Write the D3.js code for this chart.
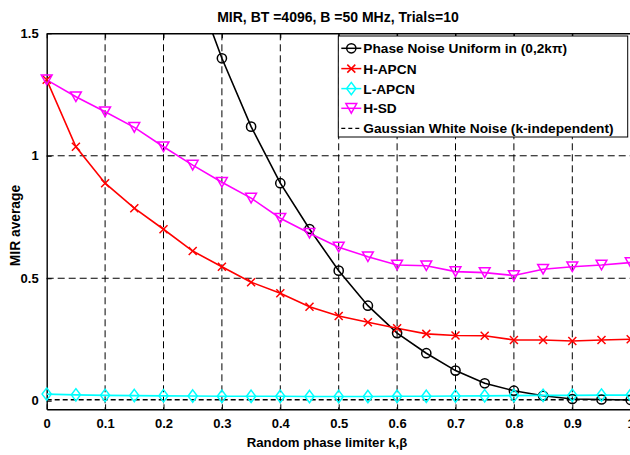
<!DOCTYPE html>
<html><head><meta charset="utf-8">
<script src="https://cdn.jsdelivr.net/npm/d3@7"></script>
<style>
html,body{margin:0;padding:0;background:#fff;}
svg{display:block;font-family:"Liberation Sans",Arial,Helvetica,sans-serif;}
</style></head>
<body>
<svg id="chart" width="630" height="455"></svg>
<script>
const kValues = [0,0.05,0.1,0.15,0.2,0.25,0.3,0.35,0.4,0.45,0.5,0.55,0.6,0.65,0.7,0.75,0.8,0.85,0.9,0.95,1];
const phaseNoiseUniform = [2.8,2.7,2.55,2.35,2.05,1.72,1.398,1.119,0.888,0.701,0.531,0.388,0.276,0.194,0.123,0.071,0.041,0.02,0.007,0.005,0.003];
const hApcn = [1.31,1.037,0.888,0.786,0.7,0.611,0.547,0.484,0.439,0.384,0.346,0.32,0.296,0.273,0.266,0.265,0.248,0.248,0.244,0.248,0.251];
const lApcn = [0.027,0.024,0.022,0.021,0.02,0.019,0.018,0.018,0.018,0.017,0.017,0.017,0.018,0.018,0.019,0.02,0.021,0.022,0.022,0.023,0.023];
const hSd = [1.31,1.241,1.18,1.116,1.037,0.962,0.892,0.827,0.745,0.684,0.627,0.588,0.554,0.551,0.527,0.523,0.511,0.537,0.547,0.554,0.564];
const gaussianWhiteNoise = [0.004,0.004];
const gaussianK = [0,1];
const xTicks = [0,0.1,0.2,0.3,0.4,0.5,0.6,0.7,0.8,0.9,1];
const yTicks = [0,0.5,1,1.5];
const xTickLabels = ["0","0.1","0.2","0.3","0.4","0.5","0.6","0.7","0.8","0.9","1"];
const yTickLabels = ["0","0.5","1","1.5"];
const seriesNames = ["Phase Noise Uniform in (0,2k\u03c0)","H-APCN","L-APCN","H-SD","Gaussian White Noise (k-independent)"];
const titleText = "MIR, BT =4096, B =50 MHz, Trials=10";
const xLabelText = "Random phase limiter k,\u03b2";
const yLabelText = "MIR average";

const svg = d3.select("#chart");
const L = 46.7, T = 33.3, R = 630.7, B = 409.3;
const x = d3.scaleLinear().domain([0,1]).range([L,R]);
const y = d3.scaleLinear().domain([-0.035,1.5]).range([B,T]);

svg.append("defs").append("clipPath").attr("id","clip")
  .append("rect").attr("x",L).attr("y",T).attr("width",R-L).attr("height",B-T);

// grid
const grid = svg.append("g");
xTicks.slice(1,-1).forEach(t=>{
  grid.append("line").attr("x1",x(t)).attr("x2",x(t)).attr("y1",T).attr("y2",B)
    .attr("stroke","#000").attr("stroke-width",1).attr("stroke-dasharray","7,4");
});
yTicks.slice(1,-1).forEach(t=>{
  grid.append("line").attr("x1",L).attr("x2",R).attr("y1",y(t)).attr("y2",y(t))
    .attr("stroke","#000").attr("stroke-width",1).attr("stroke-dasharray","7,4");
});

// axes
const xAxis = d3.axisBottom(x).tickValues(xTicks).tickFormat((d,i)=>xTickLabels[i]).tickSizeInner(-5).tickSizeOuter(0).tickPadding(9);
const yAxis = d3.axisLeft(y).tickValues(yTicks).tickFormat((d,i)=>yTickLabels[i]).tickSizeInner(-5).tickSizeOuter(0).tickPadding(8);
const gx = svg.append("g").attr("transform",`translate(0,${B})`).call(xAxis);
const gy = svg.append("g").attr("transform",`translate(${L},0)`).call(yAxis);
const gxTop = svg.append("g").attr("transform",`translate(0,${T})`).call(d3.axisTop(x).tickValues(xTicks).tickSizeInner(-5).tickSizeOuter(0).tickFormat(""));
[gx,gy,gxTop].forEach(g=>{
  g.select(".domain").attr("stroke","#000").attr("stroke-width",1.4);
  g.selectAll(".tick line").attr("stroke","#000").attr("stroke-width",1);
  g.selectAll("text").attr("font-size",13).attr("font-weight","bold").attr("fill","#000");
});

// lines
const line = d3.line().x(d=>x(d[0])).y(d=>y(d[1]));
const plot = svg.append("g").attr("clip-path","url(#clip)");
const mk = (vals)=>kValues.map((k,i)=>[k,vals[i]]);
const series = [
  {data:mk(phaseNoiseUniform), color:"#000", marker:"circle"},
  {data:mk(hApcn), color:"#ff0000", marker:"x"},
  {data:mk(lApcn), color:"#00ffff", marker:"diamond"},
  {data:mk(hSd), color:"#ff00ff", marker:"tri"},
];
function drawMarker(g, type, cx, cy, color){
  if(type==="circle"){
    g.append("circle").attr("cx",cx).attr("cy",cy).attr("r",4.6).attr("fill","none").attr("stroke",color).attr("stroke-width",1.5);
  } else if(type==="x"){
    const s=4;
    g.append("path").attr("d",`M${cx-s},${cy-s}L${cx+s},${cy+s}M${cx-s},${cy+s}L${cx+s},${cy-s}`).attr("stroke",color).attr("stroke-width",1.5).attr("fill","none");
  } else if(type==="diamond"){
    const w=4.6,h=6.2;
    g.append("path").attr("d",`M${cx},${cy-h}L${cx+w},${cy}L${cx},${cy+h}L${cx-w},${cy}Z`).attr("stroke",color).attr("stroke-width",1.5).attr("fill","none");
  } else if(type==="tri"){
    const w=5.4,h=4.8;
    g.append("path").attr("d",`M${cx-w},${cy-h}L${cx+w},${cy-h}L${cx},${cy+h}Z`).attr("stroke",color).attr("stroke-width",1.5).attr("fill","none");
  }
}
series.forEach(s=>{
  plot.append("path").datum(s.data).attr("d",line).attr("fill","none").attr("stroke",s.color).attr("stroke-width",1.6);
  const mg = svg.append("g");
  s.data.filter(d=>d[1]<=1.5 && d[1]>=-0.035).forEach(d=>drawMarker(mg,s.marker,x(d[0]),y(d[1]),s.color));
});
plot.append("path").datum(gaussianK.map((k,i)=>[k,gaussianWhiteNoise[i]])).attr("d",line)
  .attr("fill","none").attr("stroke","#000").attr("stroke-width",1.4).attr("stroke-dasharray","5,3");

// title & labels
svg.append("text").attr("x",338).attr("y",22).attr("text-anchor","middle").attr("font-size",14).attr("font-weight","bold").text(titleText);
svg.append("text").attr("x",327).attr("y",447).attr("text-anchor","middle").attr("font-size",13.2).attr("font-weight","bold").text(xLabelText);
svg.append("text").attr("transform","translate(20,225.5) rotate(-90)").attr("text-anchor","middle").attr("font-size",13.8).attr("font-weight","bold").text(yLabelText);

// legend
const lg = svg.append("g");
const lx = 338.3, ly = 36, lw = 289.4, lh = 101;
lg.append("rect").attr("x",lx).attr("y",ly).attr("width",lw).attr("height",lh).attr("fill","#fff").attr("stroke","#000").attr("stroke-width",1);
const legendItems = [
  {color:"#000", marker:"circle", dash:null},
  {color:"#ff0000", marker:"x", dash:null},
  {color:"#00ffff", marker:"diamond", dash:null},
  {color:"#ff00ff", marker:"tri", dash:null},
  {color:"#000", marker:null, dash:"4,3"},
];
const rowY = [48.3,68.6,88.6,108.3,128.3];
legendItems.forEach((it,i)=>{
  const cy = rowY[i];
  lg.append("line").attr("x1",lx+3).attr("x2",lx+23).attr("y1",cy).attr("y2",cy).attr("stroke",it.color).attr("stroke-width",it.dash?1.3:1.5).attr("stroke-dasharray",it.dash);
  if(it.marker) drawMarker(lg,it.marker,lx+13,cy,it.color);
  lg.append("text").attr("x",lx+25).attr("y",cy+5).attr("font-size",13.7).attr("font-weight","bold").text(seriesNames[i]);
});
</script>
</body></html>
